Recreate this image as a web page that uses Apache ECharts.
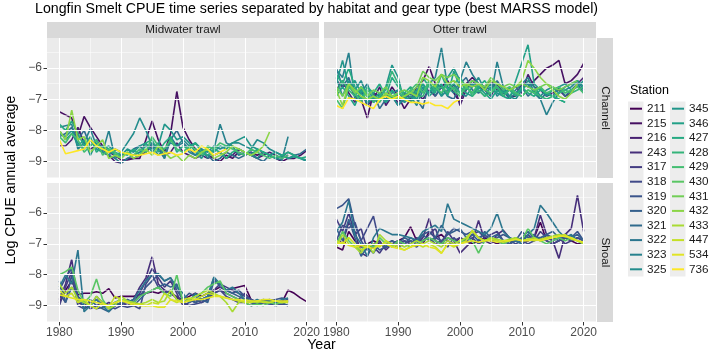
<!DOCTYPE html>
<html>
<head>
<meta charset="utf-8">
<script src="https://cdn.jsdelivr.net/npm/echarts@6/dist/echarts.min.js"></script>
<style>
  html, body { margin: 0; padding: 0; background: #fff; }
  #chart { width: 709px; height: 353px; }
</style>
</head>
<body>
<div id="chart"></div>
<script>
const _ = null;
const years = Array.from({ length: 41 }, (_v, i) => 1980 + i);

const stations = ['211', '215', '216', '243', '317', '318', '319', '320', '321', '322', '323', '325',
  '345', '346', '427', '428', '429', '430', '431', '432', '433', '447', '534', '736'];

const xTicks = [1980, 1990, 2000, 2010, 2020];
const xMinor = [1985, 1995, 2005, 2015];
const yTicks = [-9, -8, -7, -6];
const yMinor = [-9.5, -8.5, -7.5, -6.5, -5.5];

// Midwater trawl, Channel (1980..2020)
const mcStations = ['215', '216', '321', '323', '325', '345', '427', '429', '432', '736'];
const mcValues = [
  [-7.4,-7.5,-7.6,-8.2,-7.55,-7.9,-8.2,-8.5,-8.7,-8.8, -8.95,-8.95,-8.9,-8.9,-8.3,-7.7,-8.3,-8.7,-8.1,-6.75, -7.9,-8.3,-8.6,-8.7,-8.8,-8.9,-9.0,-8.8,-8.9,-8.7, -8.8,-8.7,-8.8,-8.7,-8.8,-8.9,-9.0,-8.9,-8.9,-8.8, -8.65],
  [-8.5,-8.5,-8.3,-7.9,-8.4,-8.6,-8.5,-8.7,-8.8,-9.0, -9.05,-8.9,-8.9,-8.8,-8.7,-8.5,-8.6,-8.8,-8.7,-8.4, -8.7,-8.8,-8.9,-8.8,-8.9,-8.8,-8.7,-8.9,-8.8,-8.6, -8.7,-8.8,-8.9,-8.8,-8.7,-8.8,-8.9,-8.8,_,_, _],
  [-8.2,-8.1,-7.9,-8.3,-8.0,-8.5,-8.3,-8.6,-8.8,-8.9, -8.8,-8.75,-8.6,-8.5,-8.7,-8.4,-8.6,-8.9,-8.3,-8.0, -8.4,-8.6,-8.8,-8.7,-8.8,-9.0,-8.9,-8.7,-8.8,-8.9, -8.8,-8.7,-8.9,-9.0,-8.8,-8.9,-8.85,-8.7,-8.8,-8.75, -8.6],
  [-7.9,-7.85,-7.8,-8.6,-8.4,-7.95,-8.5,-8.7,-8.0,-8.9, -9.05,-8.9,-8.8,-8.7,-8.5,-8.6,-8.4,-8.9,-8.2,-8.5, -8.4,-8.7,-8.8,-8.6,-8.9,-8.6,-7.8,-8.4,-8.5,-8.8, -8.7,-8.8,-8.9,-8.7,-8.8,-8.9,-8.95,-8.2,_,_, _],
  [-8.0,-8.3,-8.1,-8.4,-8.6,-8.3,-8.6,-8.7,-8.8,-8.6, -8.7,-8.4,-8.1,-7.6,-8.0,-8.5,-8.8,-8.6,-8.4,-8.5, -8.3,-8.5,-8.4,-8.6,-8.7,-8.5,-8.6,-8.5,-8.4,-8.4, -8.5,-8.6,-8.3,-8.4,-8.6,-8.7,-8.8,-8.9,-8.8,-8.9, -9.0],
  [-8.1,-8.2,-8.0,-8.5,-8.3,-8.8,-8.4,-8.6,-8.5,-8.7, -8.8,-8.6,-8.7,-8.5,-8.4,-8.7,-8.5,-7.8,-8.0,-8.3, -8.2,-8.4,-8.7,-8.9,-8.6,-8.7,-8.5,-8.6,-8.4,-8.3, -8.2,-8.5,-8.6,-8.7,-8.8,-8.7,-8.8,-8.9,-8.85,-8.9, -8.95],
  [-7.8,-8.0,-7.7,-8.1,-8.5,-8.2,-8.7,-8.5,-8.6,-8.8, -8.7,-8.8,-8.6,-8.8,-8.4,-8.3,-8.7,-8.4,-8.2,-8.7, -8.5,-8.6,-8.4,-8.7,-8.8,-8.6,-8.7,-8.9,-8.7,-8.6, -8.7,-8.8,-8.6,-8.7,-8.8,-8.9,-8.8,-8.7,-8.8,-8.9, -8.85],
  [-8.2,-8.4,-8.1,-8.3,-8.7,-8.5,-8.3,-8.8,-8.6,-8.7, -8.9,-8.7,-8.8,-8.6,-8.7,-8.2,-8.5,-8.6,-8.3,-8.6, -8.7,-8.5,-8.6,-8.8,-8.5,-8.6,-8.4,-8.5,-8.6,-8.7, -8.8,-8.6,-8.7,-8.8,-8.9,-8.8,-8.9,-8.8,_,_, _],
  [-8.0,-8.3,-7.35,-8.3,-8.2,-8.7,-8.5,-8.3,-8.9,-8.8, -8.9,-8.7,-8.9,-8.8,-8.6,-8.8,-8.5,-8.7,-8.9,-8.8, -9.0,-8.8,-8.9,-8.7,-8.6,-8.9,-8.8,-8.7,-8.5,-8.6, -8.7,-8.8,-8.7,-8.5,-8.05,_,_,_,_,_, _],
  [-8.3,-8.75,-8.7,-8.65,-8.6,-8.3,-8.5,-8.6,-8.7,-8.6, -8.7,-8.75,-8.8,-8.8,-8.75,-8.7,-8.8,-8.75,-8.7,-8.8, -8.75,-8.6,-8.7,-8.5,-8.6,-8.8,-8.7,-8.6,_,_, _,_,_,_,_,_,_,_,_,_, _]
];

// Otter trawl, Channel
const ocStations = ['215', '216', '321', '323', '325', '345', '346', '427', '428', '429', '431', '432', '736'];
const ocValues = [
  [-6.4,-6.6,-6.5,-6.9,-7.0,-7.6,-6.8,-6.9,-7.0,-6.6, -6.9,-7.3,-7.0,-6.6,-6.4,-5.95,-6.5,-6.6,-6.4,-6.8, -7.1,-6.5,-6.3,-6.5,-6.6,-6.4,-6.7,-6.8,-6.9,-6.9, -6.5,-6.6,-6.4,-6.2,-6.0,-5.9,-5.75,-6.5,-6.4,-6.2, -5.85],
  [-6.7,-6.4,-6.8,-7.1,-6.7,-7.2,-7.0,-6.6,-7.2,-6.9, -7.1,-6.8,-7.0,-6.8,-7.0,-6.7,-6.9,-6.6,-6.8,-6.5, -7.2,-6.7,-6.4,-6.6,-6.7,-6.9,-6.5,-6.8,-6.7,-6.6, -6.8,-6.2,-6.6,-6.7,-6.9,-6.8,-6.7,-6.9,-6.8,-6.5, -6.3],
  [-6.0,-6.6,-6.3,-6.9,-6.6,-7.2,-6.8,-7.3,-7.0,-6.9, -7.2,-7.0,-6.8,-7.0,-7.3,-6.4,-6.9,-6.6,-6.9,-7.0, -6.5,-6.3,-6.7,-6.8,-6.6,-6.7,-6.4,-6.7,-7.0,-6.8, -6.6,-6.9,-6.7,-7.0,-6.8,-6.9,-6.6,-6.9,-6.7,-6.5, -6.8],
  [-6.05,-6.3,-5.5,-7.0,-6.8,-6.5,-7.1,-6.9,-7.0,-6.8, -6.7,-7.1,-6.9,-7.2,-6.7,-6.5,-6.3,-5.35,-6.6,-6.8, -6.4,-5.8,-6.2,-6.5,-6.6,-6.9,-5.8,-6.6,-6.9,-6.7, -6.5,-6.3,-6.8,-7.0,-7.5,-7.1,-6.8,-6.6,-6.5,-6.4, -6.7],
  [-6.3,-6.9,-6.4,-6.7,-6.4,-6.9,-7.0,-6.8,-7.1,-6.9, -7.2,-6.9,-7.1,-6.7,-6.5,-6.8,-6.6,-6.9,-6.7,-6.5, -6.8,-6.9,-6.6,-6.3,-6.7,-6.5,-6.9,-6.7,-6.9,-7.0, -6.7,-6.4,-6.6,-6.9,-6.7,-6.6,-6.8,-6.7,-6.6,-6.4, -6.6],
  [-6.5,-5.75,-6.6,-6.4,-6.8,-7.1,-6.9,-7.0,-6.6,-5.9, -6.3,-7.1,-6.9,-7.0,-6.6,-6.8,-6.5,-6.9,-6.3,-6.0, -6.4,-6.7,-6.5,-6.7,-6.9,-6.6,-6.8,-6.9,-6.6,-6.8, -6.7,-6.5,-6.8,-6.6,-6.9,-6.7,-6.6,-6.5,-6.7,-6.6, -6.4],
  [-6.9,-6.6,-6.9,-7.2,-6.7,-6.9,-7.0,-6.8,-7.1,-6.7, -7.0,-6.9,-7.1,-6.9,-6.5,-6.9,-6.7,-6.5,-6.9,-6.1, -6.6,-6.8,-6.9,-6.6,-6.8,-7.0,-6.7,-6.9,-7.0,_, _,-5.25,-6.5,-6.7,-6.8,-6.9,-7.0,-7.1,_,_, _],
  [-6.2,-6.5,-6.0,-6.6,-7.0,-6.6,-6.8,-6.5,-6.9,-6.3, -6.6,-6.8,-6.6,-6.8,-6.3,-6.6,-6.8,-6.2,-6.7,-6.5, -6.3,-6.6,-6.8,-6.6,-6.4,-6.7,-6.6,-6.8,-6.7,-6.9, -6.6,-6.8,-6.9,-6.7,-6.8,-6.9,-7.0,-7.1,_,_, _],
  [-6.8,-6.4,-6.7,-6.9,-6.6,-6.8,-7.1,-6.9,-6.7,-6.1, -6.5,-6.9,-6.7,-6.9,-6.9,-6.5,-6.7,-6.6,-6.8,-6.6, -6.8,-6.5,-6.9,-6.7,-6.9,-6.8,-6.6,-6.9,-6.7,-6.8, -6.9,-6.7,-6.8,-6.9,-7.0,-6.9,-6.8,-6.7,-6.8,-6.7, -6.6],
  [-7.0,-7.3,-6.6,-6.8,-7.1,-6.7,-6.9,-7.1,-6.8,-7.0, -6.8,-6.9,-6.7,-6.5,-6.8,-6.4,-6.6,-6.8,-6.5,-6.7, -6.9,-6.6,-6.8,-6.5,-6.7,-6.8,-6.5,-6.7,-6.6,-6.8, -6.9,-6.7,-6.8,-6.6,-6.8,-6.7,-6.6,-6.8,-6.7,-6.6, -6.8],
  [-6.6,-6.9,-6.5,-6.8,-6.6,-6.9,-6.7,-6.8,-6.6,-6.9, -6.8,-6.7,-6.8,-6.6,-6.1,-6.3,-6.4,-6.2,-6.3,-6.2, -6.4,-6.6,-6.4,-6.5,-6.6,-6.3,-6.5,-6.6,-6.5,-6.6, -6.5,-6.6,-6.7,-6.6,-6.5,-6.6,-6.7,-6.6,-6.5,-6.4, _],
  [-6.7,-7.2,-6.5,-6.7,-6.9,-7.0,-6.9,-7.0,-6.8,-6.9, -7.0,-6.9,-6.8,-6.9,-6.3,-6.4,-6.6,-6.2,-6.5,-6.4, -6.6,-6.5,-6.6,-6.5,-6.7,-6.4,-6.5,-6.6,-6.7,-6.6, -6.4,-5.75,-6.0,-6.3,-6.5,-6.7,-6.9,-7.0,-6.8,-6.5, _],
  [-7.2,-7.3,-6.95,-7.0,-7.1,-7.2,-7.3,-7.0,-6.9,-7.0, -6.9,-7.0,-7.1,-7.1,-7.15,-7.1,-7.2,-7.2,-7.3,-7.1, -7.0,_,_,_,_,_,_,_,_,_, _,_,_,_,_,_,_,_,_,_, _]
];

// Midwater trawl, Shoal
const msStations = ['211', '243', '317', '318', '319', '320', '322', '430', '433', '447', '534'];
const msValues = [
  [-8.9,-8.5,-8.2,-8.65,-8.6,-8.6,-8.55,-8.6,-8.45,-8.75, -8.7,-8.7,-8.7,-8.65,-8.6,-8.55,-8.6,-8.5,-8.6,-8.75, -8.8,-8.7,-8.6,-8.7,-8.6,-8.5,-8.4,-8.5,-8.45,-8.4, -8.35,-8.8,-8.9,-8.85,-8.9,-8.9,-8.9,-8.5,-8.6,-8.75, -8.87],
  [-8.8,-8.3,-7.5,-8.9,-9.0,-8.9,-8.8,-9.0,-8.9,-9.0, -8.95,-8.9,-8.8,-8.4,-8.1,-7.42,-8.3,-8.5,-8.6,-8.7, -8.9,-8.8,-8.9,-8.8,-8.7,-8.6,-8.5,-8.6,-8.7,-8.8, -8.6,-8.8,-8.9,-8.85,-8.8,-8.85,-8.9,-8.8,_,_, _],
  [-9.0,-8.4,-7.9,-8.7,-8.9,-9.1,-9.0,-8.9,-9.1,-9.0, -8.9,-9.0,-8.9,-8.6,-8.2,-7.8,-8.1,-8.4,-8.2,-8.6, -9.0,-8.9,-8.8,-8.9,-8.8,-8.5,-8.3,-8.4,-8.5,-8.6, -8.7,-8.9,-8.95,-8.9,-8.85,-8.9,-8.85,-8.9,_,_, _],
  [-8.6,-8.9,-8.0,-9.0,-9.1,-9.0,-9.1,-9.05,-9.0,-9.1, -9.0,-9.05,-9.0,-9.1,-8.3,-8.0,-8.4,-8.6,-8.5,-8.8, -8.9,-9.0,-8.95,-8.9,-8.8,-8.6,-8.5,-8.7,-8.8,-8.9, -8.9,-9.0,-8.95,-8.9,-8.95,-9.0,-8.95,-9.0,_,_, _],
  [-8.5,-8.1,-7.8,-8.8,-8.9,-9.0,-8.7,-8.9,-9.0,-8.9, -9.0,-8.8,-8.9,-8.7,-8.4,-8.2,-8.0,-8.2,-8.1,-8.5, -8.8,-8.6,-8.7,-8.8,-8.7,-8.1,-8.4,-8.5,-8.6,-8.5, -8.7,-8.8,-8.9,-8.8,-8.85,-8.8,-8.75,-8.8,_,_, _],
  [-8.2,-8.9,-8.4,-8.7,-9.1,-8.8,-9.0,-9.1,-9.2,-9.0, -8.9,-8.8,-9.0,-8.8,-8.6,-8.5,-8.4,-8.3,-8.4,-8.3, -8.9,-8.8,-8.9,-8.8,-8.9,-8.2,-8.3,-8.5,-8.6,-8.7, -8.8,-8.9,-9.0,-8.9,-8.95,-8.9,-8.9,-9.0,_,_, _],
  [-8.4,-8.0,-8.3,-7.2,-9.2,-9.0,-8.8,-9.0,-9.2,-8.9, -8.8,-8.9,-8.8,-8.5,-8.2,-8.0,-7.96,-8.2,-8.1,-8.4, -8.6,-8.9,-8.6,-8.8,-8.7,-8.07,-8.3,-8.5,-8.4,-8.6, -8.8,-8.9,-8.8,-8.9,-8.85,-8.9,-8.8,-8.75,_,_, _],
  [-8.0,-7.9,-7.75,-8.5,-8.9,-8.7,-8.14,-8.8,-9.1,-8.9, -8.8,-8.85,-8.9,-8.7,-8.6,-8.5,-8.4,-8.6,-8.7,-8.0, -8.9,-8.8,-8.7,-8.6,-8.4,-8.3,-8.2,-8.6,-8.7,-8.8, -8.9,-9.0,-8.95,-9.0,-8.9,-8.95,-8.9,-8.85,_,_, _],
  [-8.3,-8.6,-8.4,-8.8,-8.9,-9.0,-8.7,-8.9,-9.1,-9.0, -8.7,-8.85,-8.9,-8.95,-8.9,-8.8,-8.9,-8.85,-8.5,-8.8, -8.9,-8.8,-8.7,-8.6,-8.5,-8.6,-8.7,-8.9,-9.2,-8.9, -8.8,-8.85,-8.9,-8.85,-8.9,-8.85,-8.9,-8.85,_,_, _],
  [-8.5,-8.7,-8.6,-8.9,-8.8,-9.0,-9.1,-8.9,-9.05,-8.7, -8.8,-8.9,-9.0,-8.95,-9.0,-8.9,-8.95,-8.6,-8.8,-8.9, -8.8,-8.75,-8.8,-8.7,-8.6,-8.65,-8.7,-8.75,-8.8,-8.85, -8.9,-8.9,-8.85,-8.9,-8.9,-8.85,-8.9,-8.9,_,_, _],
  [-8.65,-8.7,-8.75,-8.8,-8.8,-8.85,-8.9,-8.95,-9.0,-8.9, -8.85,-8.9,-8.95,-9.0,-9.0,-9.0,-9.05,-9.05,-8.8,-8.85, -8.9,-8.85,-8.8,-8.8,-8.75,-8.7,-8.7,-8.75,-8.8,-8.8, -8.85,-8.85,-8.85,-8.8,-8.8,-8.85,-8.85,-8.85,_,_, _]
];

// Otter trawl, Shoal
const osStations = ['211', '243', '317', '318', '319', '320', '322', '430', '433', '447', '534'];
const osValues = [
  [-7.1,-7.2,-6.6,-6.9,-7.1,-7.0,-6.9,-7.0,-7.1,-7.0, -6.9,-6.8,-6.45,-6.9,-7.0,-6.6,-6.8,-6.7,-6.9,-7.0, -6.8,-6.9,-7.0,-6.9,-6.8,-6.9,-7.0,-6.9,-7.0,-6.9, -6.85,-6.9,-6.8,-6.3,-6.9,-7.0,-6.9,-6.8,-6.9,-7.0, -7.0],
  [-6.8,-7.0,-6.3,-6.6,-7.3,-7.4,-7.0,-6.9,-7.2,-7.0, -7.1,-7.0,-6.9,-7.0,-6.8,-6.18,-6.9,-7.0,-6.8,-6.9, -7.3,-7.1,-6.9,-6.24,-6.9,-7.0,-6.7,-6.56,-6.8,-6.9, -7.0,-6.9,-6.8,-6.07,-6.7,-6.9,-7.47,-6.7,-6.5,-5.43, -6.6],
  [-6.2,-6.6,-6.0,-6.7,-6.5,-7.2,-7.1,-7.3,-7.0,-6.9, -7.0,-6.9,-7.0,-6.8,-6.9,-6.7,-6.5,-7.0,-6.6,-6.9, -6.8,-6.9,-6.7,-6.6,-6.8,-6.7,-6.6,-6.9,-7.0,-6.8, -6.9,-6.7,-6.9,-6.6,-6.8,-6.9,-6.8,-7.0,-6.9,-6.8, -6.9],
  [-6.9,-6.4,-6.5,-6.3,-6.9,-6.5,-6.1,-7.0,-7.1,-7.0, -7.1,-6.9,-7.0,-7.1,-6.9,-6.8,-7.0,-6.9,-7.1,-6.8, -7.0,-6.9,-6.8,-7.0,-6.9,-6.8,-6.9,-7.0,-6.9,-7.0, -6.9,-7.0,-6.9,-6.8,-6.9,-7.0,-6.9,-6.8,-6.9,-6.8, -6.9],
  [-5.86,-5.75,-5.54,-6.4,-6.9,-7.2,-7.0,-7.2,-7.1,-7.0, -6.9,-7.0,-6.8,-6.9,-6.7,-6.6,-6.8,-6.9,-6.7,-6.5, -6.6,-6.7,-6.6,-6.8,-6.7,-6.9,-6.8,-6.7,-6.8,-6.9, -6.6,-6.8,-6.7,-6.9,-6.7,-6.8,-6.9,-6.7,-6.8,-6.6, -6.9],
  [-6.5,-6.9,-6.2,-6.8,-7.4,-7.1,-7.3,-7.0,-7.1,-6.9, -7.0,-6.8,-6.9,-7.0,-6.7,-6.9,-6.8,-6.4,-6.7,-6.6, -6.5,-6.8,-6.7,-6.9,-6.6,-6.8,-6.7,-6.9,-7.0,-6.9, -6.8,-6.6,-6.8,-6.8,-6.7,-6.6,-6.8,-6.7,-6.8,-6.7, -6.9],
  [-6.6,-6.3,-5.6,-6.7,-7.0,-7.4,-6.8,-6.5,-6.6,-6.7, -6.7,-6.75,-6.8,-6.9,-6.6,-6.5,-6.4,-6.6,-5.7,-6.2, -6.3,-6.4,-6.5,-6.6,-6.7,-6.5,-6.0,-6.6,-6.8,-6.9, -7.0,-6.7,-6.5,-5.75,-6.0,-6.3,-6.6,-6.8,-6.7,-6.9, -7.0],
  [-7.0,-6.6,-6.9,-7.1,-7.2,-7.0,-7.1,-6.8,-7.0,-7.1, -6.9,-7.0,-7.1,-7.0,-6.9,-6.8,-6.9,-7.0,-6.8,-6.9, -7.0,-6.8,-6.9,-7.3,-6.9,-6.8,-6.9,-7.0,-6.9,-6.8, -6.9,-6.5,-6.8,-6.9,-7.0,-6.9,-6.8,-6.9,-6.8,-6.9, -7.0],
  [-7.1,-6.7,-7.0,-7.1,-7.3,-7.0,-7.3,-6.7,-6.9,-7.1, -7.0,-7.1,-7.0,-6.9,-7.0,-6.9,-7.0,-7.1,-6.9,-7.0, -6.9,-6.8,-6.6,-6.8,-6.9,-6.8,-6.85,-6.9,-6.85,-6.8, -6.9,-6.85,-6.8,-6.9,-6.8,-6.75,-6.7,-6.77,-6.8,-6.9, -7.0],
  [-6.9,-7.0,-6.8,-7.0,-7.2,-7.1,-7.0,-7.1,-6.9,-7.0, -7.1,-7.2,-7.1,-7.0,-7.1,-7.0,-7.1,-7.3,-7.0,-7.1, -7.0,-6.9,-6.56,-6.8,-6.9,-6.85,-6.9,-6.95,-6.9,-6.85, -6.9,-6.85,-6.9,-6.85,-6.8,-6.8,-6.75,-6.7,-6.85,-6.9, -6.95],
  [-7.0,-6.95,-7.05,-7.1,-7.05,-7.1,-7.15,-7.05,-7.0,-7.1, -7.15,-7.2,-7.1,-7.05,-7.0,-7.1,-7.15,-7.31,-7.0,-7.05, -7.0,-6.95,-6.9,-6.95,-6.9,-6.9,-6.95,-6.9,-6.9,-6.85, -6.9,-6.9,-6.85,-6.9,-6.85,-6.8,-6.75,-6.75,-6.8,-6.9, -6.95]
];

// viridis palette, one colour per station
const viridisStops = ['#440154', '#482475', '#414487', '#355f8d', '#2a788e', '#21918c',
  '#22a884', '#44bf70', '#7ad151', '#bddf26', '#fde725'];

function viridis(t) {
  const p = t * 10;
  const i = Math.min(9, Math.floor(p));
  const f = p - i;
  const a = viridisStops[i], b = viridisStops[i + 1];
  const ch = (h, k) => parseInt(h.slice(1 + k * 2, 3 + k * 2), 16);
  const rgb = [0, 1, 2].map((k) => Math.round(ch(a, k) + (ch(b, k) - ch(a, k)) * f));
  return 'rgb(' + rgb.join(',') + ')';
}

const stationColor = {};
stations.forEach((s, i) => {
  stationColor[s] = viridis(i / (stations.length - 1));
});

const FONT = 'Liberation Sans, Arial, sans-serif';
const panelW = 272;

const panels = [
  { left: 47, top: 38, height: 140, names: mcStations, values: mcValues, showX: false, showY: true },
  { left: 324, top: 38, height: 140, names: ocStations, values: ocValues, showX: false, showY: false },
  { left: 47, top: 183, height: 139, names: msStations, values: msValues, showX: true, showY: true },
  { left: 324, top: 183, height: 139, names: osStations, values: osValues, showX: true, showY: false },
];

const grid = [];
const xAxis = [];
const yAxis = [];
const series = [];

panels.forEach((p, gi) => {
  grid.push({
    left: p.left, top: p.top, width: panelW, height: p.height,
    show: true, backgroundColor: '#EBEBEB', borderWidth: 0,
  });
  xAxis.push({
    type: 'value', gridIndex: gi, min: 1978, max: 2022,
    axisLine: { show: false },
    splitLine: { show: false },
    axisTick: {
      show: p.showX, customValues: xTicks, length: 3.5,
      lineStyle: { color: '#333333', width: 1 },
    },
    axisLabel: {
      show: p.showX, customValues: xTicks, margin: 5,
      color: '#4D4D4D', fontSize: 12, fontFamily: FONT,
      formatter: (v) => String(v),
    },
  });
  yAxis.push({
    type: 'value', gridIndex: gi, min: -9.53, max: -5.03,
    axisLine: { show: false },
    splitLine: { show: false },
    axisTick: {
      show: p.showY, customValues: yTicks, length: 3.5,
      lineStyle: { color: '#333333', width: 1 },
    },
    axisLabel: {
      show: p.showY, customValues: yTicks, margin: 5,
      color: '#4D4D4D', fontSize: 12, fontFamily: FONT,
      formatter: (v) => String(v).replace('-', '\u2212'),
    },
  });

  // white grid lines
  const major = { color: '#FFFFFF', width: 1.1, type: 'solid' };
  const minor = { color: '#FFFFFF', width: 0.5, type: 'solid' };
  series.push({
    type: 'line', xAxisIndex: gi, yAxisIndex: gi, data: [], z: 1, silent: true,
    markLine: {
      silent: true, symbol: ['none', 'none'], animation: false,
      label: { show: false },
      data: [
        ...yMinor.map((v) => ({ yAxis: v, lineStyle: minor })),
        ...xMinor.map((v) => ({ xAxis: v, lineStyle: minor })),
        ...yTicks.map((v) => ({ yAxis: v, lineStyle: major })),
        ...xTicks.map((v) => ({ xAxis: v, lineStyle: major })),
      ],
    },
  });

  p.names.forEach((name, si) => {
    const col = stationColor[name];
    series.push({
      type: 'line', name: name, xAxisIndex: gi, yAxisIndex: gi, z: 2,
      showSymbol: false, connectNulls: true, silent: true,
      itemStyle: { color: col },
      lineStyle: { color: col, width: 1.6 },
      data: years.map((y, i) => [y, p.values[si][i]]),
    });
  });
});

const legendStyle = {
  orient: 'vertical', top: 101.4, padding: 0, itemGap: 0,
  itemWidth: 12, itemHeight: 2, icon: 'rect', selectedMode: false,
  textStyle: { fontSize: 11.7, color: '#1A1A1A', fontFamily: FONT, lineHeight: 14.6 },
};

const stripStyle = { fill: '#D9D9D9' };
const stripText = { fill: '#1A1A1A', fontSize: 11.7, fontFamily: FONT, align: 'center', verticalAlign: 'middle' };

const chart = echarts.init(document.getElementById('chart'), null, { renderer: 'canvas' });
chart.setOption({
  animation: false,
  backgroundColor: '#FFFFFF',
  title: {
    text: 'Longfin Smelt CPUE time series separated by habitat and gear type (best MARSS model)',
    left: 35, top: 2, padding: 0,
    textStyle: { fontSize: 14.2, fontWeight: 'normal', color: '#000000', fontFamily: FONT },
  },
  grid: grid,
  xAxis: xAxis,
  yAxis: yAxis,
  legend: [
    Object.assign({ left: 630, data: stations.slice(0, 12) }, legendStyle),
    Object.assign({ left: 672, data: stations.slice(12) }, legendStyle),
  ],
  graphic: [
    { type: 'rect', shape: { x: 47, y: 22, width: panelW, height: 16 }, style: stripStyle },
    { type: 'rect', shape: { x: 324, y: 22, width: panelW, height: 16 }, style: stripStyle },
    { type: 'rect', shape: { x: 597, y: 38, width: 16, height: 140 }, style: stripStyle },
    { type: 'rect', shape: { x: 597, y: 183, width: 16, height: 139 }, style: stripStyle },
    { type: 'text', x: 47 + panelW / 2, y: 30, style: Object.assign({ text: 'Midwater trawl' }, stripText) },
    { type: 'text', x: 324 + panelW / 2, y: 30, style: Object.assign({ text: 'Otter trawl' }, stripText) },
    { type: 'text', x: 605, y: 108, rotation: -Math.PI / 2, style: Object.assign({ text: 'Channel' }, stripText) },
    { type: 'text', x: 605, y: 252.5, rotation: -Math.PI / 2, style: Object.assign({ text: 'Shoal' }, stripText) },
    { type: 'rect', shape: { x: 628, y: 101.4, width: 15.5, height: 175.2 }, style: { fill: '#EDEDED' }, z: -1 },
    { type: 'rect', shape: { x: 670, y: 101.4, width: 15.5, height: 175.2 }, style: { fill: '#EDEDED' }, z: -1 },
    { type: 'text', x: 630, y: 91, style: { text: 'Station', fill: '#000000', fontSize: 12.5, fontFamily: FONT, verticalAlign: 'middle' } },
    { type: 'text', x: 11, y: 180, rotation: Math.PI / 2, style: { text: 'Log CPUE annual average', fill: '#000000', fontSize: 14.2, fontFamily: FONT, align: 'center', verticalAlign: 'middle' } },
    { type: 'text', x: 321.5, y: 345, style: { text: 'Year', fill: '#000000', fontSize: 14.2, fontFamily: FONT, align: 'center', verticalAlign: 'middle' } },
  ],
  series: series,
});
</script>
</body>
</html>
